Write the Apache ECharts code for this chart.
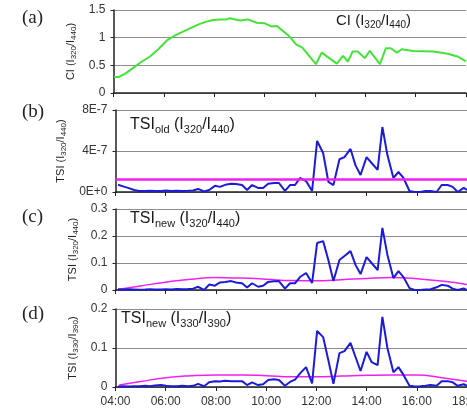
<!DOCTYPE html>
<html>
<head>
<meta charset="UTF-8">
<title>CI and TSI</title>
<script src="https://cdn.jsdelivr.net/npm/echarts/dist/echarts.min.js"></script>
<style>
    html, body { margin: 0; padding: 0; background: #fff; }
    #main { width: 467px; height: 412px; }
</style>
</head>
<body>
<div id="main"></div>
<script>
// (a) colour index
const ciHours = [4.02, 4.22, 4.5, 4.77, 5.1, 5.45, 5.8, 6.12, 6.45, 6.76, 7.1, 7.43, 7.7, 7.95, 8.25, 8.5, 8.62, 9.02, 9.34, 9.69, 10.01, 10.29, 10.49, 10.65, 10.95, 11.25, 11.5, 12.04, 12.27, 12.87, 13.11, 13.31, 13.5, 13.7, 13.98, 14.18, 14.58, 14.82, 15.02, 15.25, 15.45, 15.9, 16.71, 17.27, 17.66, 18.0];
const ciValues = [0.29, 0.29, 0.36, 0.45, 0.56, 0.66, 0.8, 0.95, 1.04, 1.11, 1.18, 1.25, 1.29, 1.32, 1.33, 1.33, 1.35, 1.31, 1.33, 1.27, 1.26, 1.2, 1.21, 1.15, 1.04, 0.88, 0.82, 0.52, 0.73, 0.53, 0.67, 0.57, 0.75, 0.75, 0.63, 0.76, 0.52, 0.81, 0.81, 0.73, 0.79, 0.76, 0.75, 0.71, 0.66, 0.57];

// sample times (hours) shared by panels b, c, d
const sampleHours = [
    4.10, 4.30, 4.50, 4.74, 4.94, 5.18, 5.37, 5.57, 5.81, 6.01,
    6.21, 6.45, 6.65, 6.89, 7.09, 7.29, 7.53, 7.73, 7.96, 8.16,
    8.37, 8.61, 8.80, 9.04, 9.24, 9.44, 9.68, 9.88, 10.08, 10.31,
    10.51, 10.75, 10.95, 11.15, 11.35, 11.59, 11.83, 12.03, 12.27, 12.48,
    12.68, 12.92, 13.12, 13.36, 13.56, 13.76, 14.00, 14.20, 14.44, 14.63,
    14.83, 15.07, 15.27, 15.47, 15.71, 15.91, 16.14, 16.35, 16.55, 16.79,
    16.99, 17.23, 17.43, 17.63, 17.87, 18.00
];

// (b) TSI old, in units of 1E-7
const tsiOld = [
    0.7, 0.55, 0.4, 0.2, 0.1, 0.1, 0.12, 0.1, 0.1, 0.15,
    0.1, 0.12, 0.1, 0.12, 0.15, 0.3, 0.05, 0.2, 0.6, 0.5,
    0.7, 0.8, 0.78, 0.68, 0.2, 0.68, 0.4, 0.4, 0.8, 0.88,
    0.88, 0.1, 0.68, 0.68, 1.37, 1.07, 0.1, 4.98, 3.8, 0.98,
    0.68, 3.2, 3.4, 4.2, 2.6, 1.66, 3.4, 2.83, 2.15, 6.34,
    3.6, 1.37, 1.95, 1.37, 0.1, 0, 0, 0.1, 0.1, 0,
    0.68, 0.68, 0.5, 0, 0.4, 0.2
];
const thrOld = 1.25;

// (c) TSI new I320/I440
const tsiNew320 = [
    0.003, 0.002, 0.003, 0.002, 0.001, 0.002, 0.003, 0.002, 0.002, 0.003,
    0.002, 0.004, 0.003, 0.004, 0.005, 0.012, 0.0, 0.02, 0.016, 0.028,
    0.03, 0.033, 0.028, 0.025, 0.009, 0.025, 0.012, 0.016, 0.03, 0.032,
    0.033, 0.005, 0.025, 0.025, 0.048, 0.063, 0.026, 0.174, 0.181, 0.11,
    0.033, 0.111, 0.126, 0.144, 0.093, 0.059, 0.122, 0.10, 0.074, 0.23,
    0.13, 0.044, 0.07, 0.048, 0.007, 0.0, 0.0, 0.002, 0.003, 0.01,
    0.019, 0.016, 0.005, 0.0, 0.006, 0.0
];

// (d) TSI new I330/I390
const tsiNew330 = [
    0.001, 0.002, 0.001, 0.002, 0.002, 0.003, 0.002, 0.004, 0.005, 0.003,
    0.002, 0.002, 0.003, 0.002, 0.003, 0.008, 0.002, 0.012, 0.015, 0.014,
    0.016, 0.015, 0.015, 0.015, 0.005, 0.012, 0.005, 0.007, 0.018, 0.02,
    0.018, 0.003, 0.013, 0.019, 0.035, 0.051, 0.009, 0.144, 0.128, 0.068,
    0.008, 0.087, 0.092, 0.113, 0.077, 0.041, 0.09, 0.064, 0.056, 0.18,
    0.1, 0.038, 0.051, 0.031, 0.003, 0.001, 0.002, 0.003, 0.005, 0.003,
    0.015, 0.015, 0.012, 0.003, 0.007, 0.003
];

// magenta threshold curves
const thrHours = [4.15, 5, 6, 7, 8, 9, 10, 11, 12, 13, 14, 15, 16, 17, 18];
const thr320 = [0.003, 0.015, 0.029, 0.04, 0.046, 0.044, 0.04, 0.035, 0.034, 0.038, 0.043, 0.046, 0.042, 0.033, 0.02];
const thr330 = [0.005, 0.014, 0.024, 0.029, 0.031, 0.031, 0.029, 0.026, 0.026, 0.028, 0.03, 0.031, 0.031, 0.024, 0.015];

const hourTicks = ['04:00', '06:00', '08:00', '10:00', '12:00', '14:00', '16:00', '18:00'];

function zip(xs, ys) {
    return xs.map((x, i) => [x, ys[i]]);
}

const FONT = 'Liberation Sans';
const BLUE = '#1c1cd8';
const MAGENTA = '#f020f0';

let chart = echarts.init(document.getElementById('main'), null, {renderer: 'canvas'});

function xAxisFor(i) {
    return {
        type: 'value', gridIndex: i, min: 4, max: 18, interval: 2,
        axisLine: {show: true, lineStyle: {color: '#222', width: 1.5}},
        axisTick: {show: true, length: 4, lineStyle: {color: '#222', width: 1}},
        splitLine: {show: false},
        axisLabel: {
            show: i === 3, margin: 9, fontFamily: FONT, fontSize: 12, color: '#333',
            formatter: v => hourTicks[(v - 4) / 2]
        }
    };
}

function yName(main, a, b) {
    return '{m|' + main + ' (I}{s|' + a + '}{m|/I}{s|' + b + '}{m|)}';
}

const nameRich = {
    m: {fontFamily: FONT, fontSize: 11, color: '#222', lineHeight: 14},
    s: {fontFamily: FONT, fontSize: 8, color: '#222', lineHeight: 14, verticalAlign: 'bottom'}
};

function yAxisFor(i, max, interval, name, gap, fmt) {
    return {
        type: 'value', gridIndex: i, min: 0, max: max, interval: interval,
        name: name, nameLocation: 'middle', nameGap: gap,
        nameTextStyle: {rich: nameRich},
        axisLine: {show: true, lineStyle: {color: '#222', width: 1.5}},
        axisTick: {show: true, length: 3, lineStyle: {color: '#222'}},
        splitLine: {show: true, lineStyle: {color: '#8c8c8c', width: 1}},
        axisLabel: {margin: 8, fontFamily: FONT, fontSize: 12, color: '#333', formatter: fmt}
    };
}

const titleRich = (big, small) => ({
    m: {fontFamily: FONT, fontSize: big, fontWeight: 'normal', color: '#1a1a1a', lineHeight: big + 4},
    s: {fontFamily: FONT, fontSize: small, fontWeight: 'normal', color: '#1a1a1a', lineHeight: big + 4, verticalAlign: 'bottom'}
});

function letter(t, top) {
    return {
        text: t, left: 22, top: top, padding: 0,
        textStyle: {fontFamily: 'Liberation Serif', fontSize: 19, fontWeight: 'normal', color: '#222'}
    };
}

function panelTitle(text, left, top, big, small) {
    return {
        text: text, left: left, top: top, padding: 0,
        textStyle: {fontWeight: 'normal', rich: titleRich(big, small)}
    };
}

option = {
    backgroundColor: '#fff',
    animation: false,
    title: [
        letter('(a)', 9), letter('(b)', 103), letter('(c)', 208), letter('(d)', 305),
        panelTitle(yName('CI', '320', '440'), 336, 11, 15, 10),
        panelTitle('{m|TSI}{s|old}' + yName('', '320', '440'), 130, 115, 16, 11),
        panelTitle('{m|TSI}{s|new}' + yName('', '320', '440'), 130, 209, 16, 11),
        panelTitle('{m|TSI}{s|new}' + yName('', '330', '390'), 121, 309, 16, 11)
    ],
    grid: [
        {left: 113.5, right: 1, top: 10, height: 83, outerBoundsMode: 'none'},
        {left: 115.5, right: 0, top: 110, height: 82, outerBoundsMode: 'none'},
        {left: 115.5, right: 0, top: 209, height: 81, outerBoundsMode: 'none'},
        {left: 115.5, right: 0, top: 309, height: 78, outerBoundsMode: 'none'}
    ],
    xAxis: [xAxisFor(0), xAxisFor(1), xAxisFor(2), xAxisFor(3)],
    yAxis: [
        yAxisFor(0, 1.5, 0.5, yName('CI', '320', '440'), 30),
        yAxisFor(1, 8, 4, yName('TSI', '320', '440'), 42, v => v === 0 ? '0E+0' : v + 'E-7'),
        yAxisFor(2, 0.3, 0.1, yName('TSI', '320', '440'), 30),
        yAxisFor(3, 0.2, 0.1, yName('TSI', '330', '390'), 30)
    ],
    series: [
        {
            type: 'line', xAxisIndex: 0, yAxisIndex: 0, data: zip(ciHours, ciValues),
            showSymbol: false, lineStyle: {color: '#44e23a', width: 2}
        },
        {
            type: 'line', xAxisIndex: 1, yAxisIndex: 1, data: zip(sampleHours, tsiOld),
            showSymbol: false, lineStyle: {color: BLUE, width: 2},
            markLine: {
                symbol: 'none', silent: true, label: {show: false},
                lineStyle: {color: MAGENTA, width: 2.5, type: 'solid'},
                data: [{yAxis: thrOld}]
            }
        },
        {
            type: 'line', xAxisIndex: 2, yAxisIndex: 2, data: zip(thrHours, thr320),
            showSymbol: false, smooth: true, lineStyle: {color: MAGENTA, width: 1.5}
        },
        {
            type: 'line', xAxisIndex: 2, yAxisIndex: 2, data: zip(sampleHours, tsiNew320),
            showSymbol: false, lineStyle: {color: BLUE, width: 2}
        },
        {
            type: 'line', xAxisIndex: 3, yAxisIndex: 3, data: zip(thrHours, thr330),
            showSymbol: false, smooth: true, lineStyle: {color: MAGENTA, width: 1.5}
        },
        {
            type: 'line', xAxisIndex: 3, yAxisIndex: 3, data: zip(sampleHours, tsiNew330),
            showSymbol: false, lineStyle: {color: BLUE, width: 2}
        }
    ]
};
chart.setOption(option);
</script>
</body>
</html>
